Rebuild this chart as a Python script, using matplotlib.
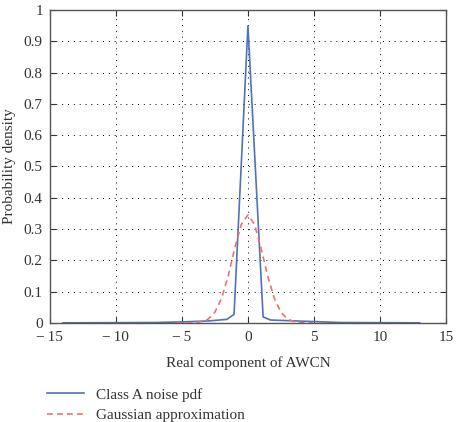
import numpy as np
import matplotlib.pyplot as plt
from matplotlib.ticker import FuncFormatter

# Class A noise pdf
classa_x = [-14, -10, -7, -5, -3, -1.6, -1.05, 0, 1.15, 1.7, 3, 5, 7, 10, 13]
classa_y = [0.0, 0.0005, 0.001, 0.003, 0.006, 0.011, 0.027, 0.95, 0.019, 0.009, 0.007, 0.004, 0.001, 0.0005, 0.0]

# Gaussian approximation
gauss_x = [-5.4, -5, -4.5, -4, -3.5, -3, -2.5, -2, -1.5, -1, -0.5, 0,
           0.5, 1, 1.5, 2, 2.5, 3, 3.5, 4, 4.5, 4.9]
gauss_y = [0.0, 0.0, 0.0, 0.001, 0.004, 0.012, 0.034, 0.078, 0.149, 0.238, 0.315, 0.345,
           0.315, 0.238, 0.149, 0.078, 0.034, 0.012, 0.004, 0.001, 0.0, 0.0]

xticks = [-15, -10, -5, 0, 5, 10, 15]
yticks = [0, 0.1, 0.2, 0.3, 0.4, 0.5, 0.6, 0.7, 0.8, 0.9, 1]

plt.rcParams['font.family'] = ['Liberation Serif', 'DejaVu Serif']
plt.rcParams['font.size'] = 11

fig = plt.figure(figsize=(4.57, 4.22), dpi=100)
ax = fig.add_axes([0.109, 0.235, 0.867, 0.741])

ax.plot(classa_x, classa_y, '-', color='#5171ba', linewidth=1.2, label='Class A noise pdf')
ax.plot(gauss_x, gauss_y, '--', color='#ec7465', linewidth=1.2, dashes=(3.5, 2.5), label='Gaussian approximation')

ax.set_xlim(-15, 15)
ax.set_ylim(0, 1)
ax.set_xticks(xticks)
ax.set_yticks(yticks)
ax.xaxis.set_major_formatter(FuncFormatter(lambda v, p: f'{v:g}'.replace('-', '\u2212\u2009')))
ax.yaxis.set_major_formatter(FuncFormatter(lambda v, p: f'{v:g}'))
ax.tick_params(direction='in', length=4, width=0.8, top=True, right=True, colors='#333333', labelcolor='#333333')
ax.tick_params(axis='x', pad=6)
ax.tick_params(axis='y', pad=5)
ax.grid(True, color='black', linestyle=(0, (1, 5)), linewidth=0.7)

for s in ax.spines.values():
    s.set_color('#555555')
    s.set_linewidth(1.0)

ax.set_xlabel('Real component of AWCN', color='#333333', labelpad=9)
ax.set_ylabel('Probability density', color='#333333', labelpad=6)

fig.legend(loc='upper left', bbox_to_anchor=(0.09, 0.095), bbox_transform=fig.transFigure,
           frameon=False, handlelength=2.4, labelspacing=0.45, borderaxespad=0,
           fontsize=11, labelcolor='#333333')

plt.savefig('out.png', dpi=100, facecolor='white')
